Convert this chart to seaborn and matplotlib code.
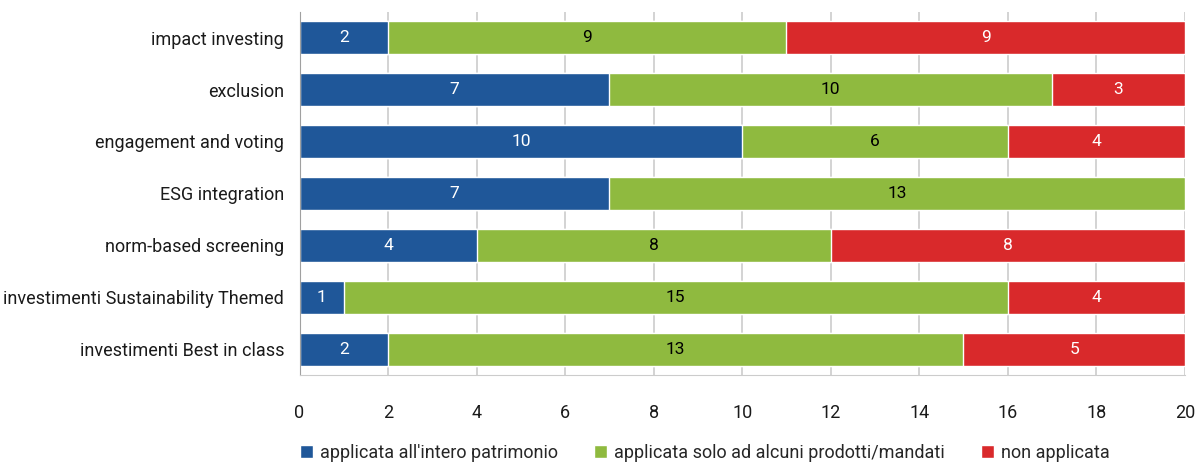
import numpy as np
import pandas as pd
import matplotlib
matplotlib.use("Agg")
import matplotlib.pyplot as plt
import seaborn as sns

# data
categories = ["impact investing", "exclusion", "engagement and voting", "ESG integration",
              "norm-based screening", "investimenti Sustainability Themed", "investimenti Best in class"]
intero = [2, 7, 10, 7, 4, 1, 2]
alcuni = [9, 10, 6, 13, 8, 15, 13]
non_app = [9, 3, 4, 0, 8, 4, 5]
series_names = ["applicata all'intero patrimonio", "applicata solo ad alcuni prodotti/mandati", "non applicata"]
colors = ["#1f5799", "#8fba3f", "#d9292b"]
text_colors = ["white", "black", "white"]

sns.set_style("white")
plt.rcParams['font.family'] = ['Roboto', 'DejaVu Sans']

df = pd.DataFrame({"cat": categories, "a": intero, "b": alcuni, "c": non_app})
df["ab"] = df["a"] + df["b"]
df["abc"] = df["ab"] + df["c"]

fig, ax = plt.subplots(figsize=(11.98, 4.66), dpi=100)
fig.subplots_adjust(left=0.25, right=0.989, top=0.975, bottom=0.195)

# layered cumulative bars = stacked look
sns.barplot(data=df, y="cat", x="abc", color=colors[2], width=0.64, ax=ax, saturation=1, label=series_names[2])
sns.barplot(data=df, y="cat", x="ab", color=colors[1], width=0.64, ax=ax, saturation=1, label=series_names[1])
sns.barplot(data=df, y="cat", x="a", color=colors[0], width=0.64, ax=ax, saturation=1, label=series_names[0])

# value labels in segment centres
for i in range(len(categories)):
    starts = [0, df["a"][i], df["ab"][i]]
    vals = [df["a"][i], df["b"][i], df["c"][i]]
    for s, v, tc in zip(starts, vals, text_colors):
        if v > 0:
            ax.text(s + v / 2, i, str(v), ha="center", va="center", color=tc, fontsize=12.5)

ax.set_xlim(0, 20)
ax.set_xticks(range(0, 21, 2))
ax.set_xlabel("")
ax.set_ylabel("")
ax.xaxis.grid(True, color="#cccccc", linewidth=1.2)
ax.set_axisbelow(True)
ax.tick_params(axis="both", length=0, labelsize=13, colors="#1a1a1a")
ax.tick_params(axis="x", pad=21)
ax.tick_params(axis="y", pad=11)
for sp in ["top", "right"]:
    ax.spines[sp].set_visible(False)
ax.spines["left"].set_color("#a0a0a0")
ax.spines["bottom"].set_color("#cccccc")

handles, labels = ax.get_legend_handles_labels()
order = [2, 1, 0]
ax.legend([handles[k] for k in order], [labels[k] for k in order],
          loc="upper center", bbox_to_anchor=(0.458, -0.145), ncol=3, frameon=False,
          fontsize=13, handlelength=0.7, handleheight=0.7, handletextpad=0.4, columnspacing=2.0)

plt.savefig("out.png", dpi=100)
